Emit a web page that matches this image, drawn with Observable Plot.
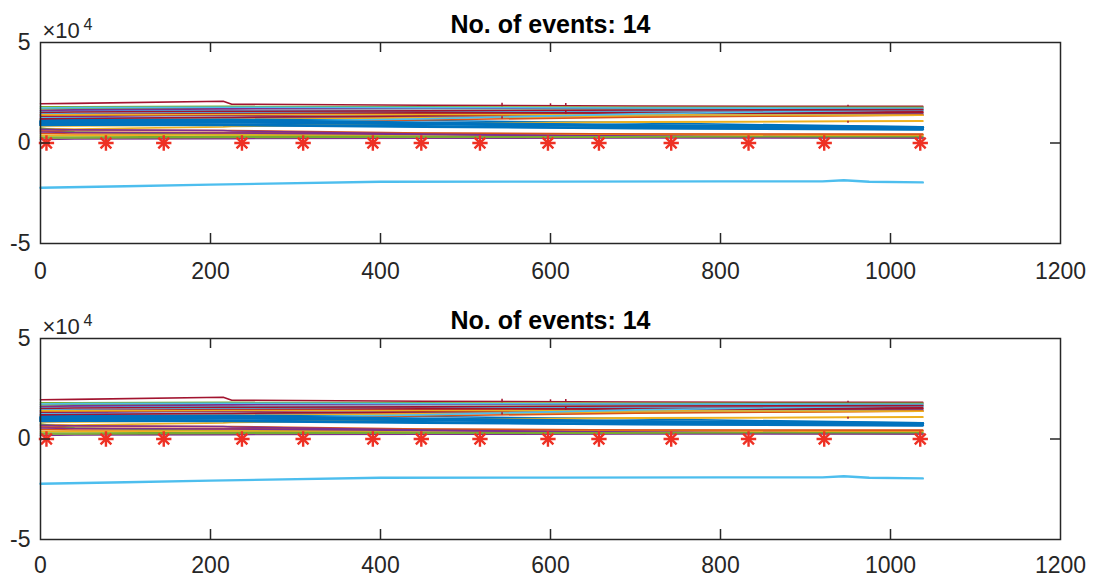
<!DOCTYPE html>
<html><head><meta charset="utf-8">
<script src="https://cdn.jsdelivr.net/npm/d3@7"></script>
<script src="https://cdn.jsdelivr.net/npm/@observablehq/plot@0.6"></script>
<style>
body{margin:0;background:#fff;}
#chart svg{display:block;}
</style>
</head><body><div id="chart"></div>
<script>
// ---------- data (y in units of 10^4) ----------
const titleText = "No. of events: 14";
const xTicks = [0, 200, 400, 600, 800, 1000, 1200];
const yTicks = [-5, 0, 5];
const knotX = [0, 40, 215, 225, 450, 700, 1038];

const ch00 = [1.00, 1.02, 1.05, 1.05, 0.95, 0.85, 0.78];
const ch01 = [1.20, 1.22, 1.25, 1.25, 1.30, 1.35, 1.38];
const ch02 = [0.72, 0.70, 0.80, 0.82, 0.95, 1.05, 1.10];
const ch03 = [0.18, 0.20, 0.22, 0.22, 0.24, 0.25, 0.25];
const ch04 = [1.70, 1.70, 1.72, 1.72, 1.72, 1.70, 1.70];
const ch05 = [1.58, 1.60, 1.62, 1.62, 1.62, 1.62, 1.62];
const ch06 = [1.95, 1.97, 2.08, 1.93, 1.88, 1.84, 1.82];
const ch07 = [0.90, 0.92, 0.90, 0.90, 0.82, 0.74, 0.68];
const ch08 = [0.48, 0.45, 0.45, 0.45, 0.44, 0.43, 0.42];
const ch09 = [1.15, 1.15, 1.17, 1.17, 1.25, 1.32, 1.38];
const ch10 = [1.30, 1.32, 1.38, 1.38, 1.42, 1.45, 1.45];
const ch11 = [0.30, 0.30, 0.32, 0.32, 0.30, 0.29, 0.28];
const ch12 = [1.45, 1.48, 1.52, 1.52, 1.55, 1.58, 1.60];
const ch13 = [1.35, 1.37, 1.42, 1.42, 1.45, 1.48, 1.50];
const ch14 = [1.15, 1.16, 1.18, 1.18, 1.12, 1.00, 0.80];
const ch15 = [0.60, 0.55, 0.52, 0.52, 0.48, 0.42, 0.38];
const ch16 = [0.85, 0.85, 0.90, 0.90, 0.98, 1.04, 1.08];
const ch17 = [1.62, 1.65, 1.70, 1.70, 1.72, 1.75, 1.75];
const ch18 = [0.75, 0.55, 0.40, 0.40, 0.35, 0.32, 0.30];
const ch19 = [1.25, 1.25, 1.28, 1.28, 1.35, 1.40, 1.42];
const ch20 = [1.20, 1.22, 1.28, 1.28, 1.35, 1.45, 1.55];
const ch21 = [0.95, 0.97, 1.00, 1.00, 0.95, 0.85, 0.75];
const ch22 = [1.00, 1.02, 1.05, 1.05, 1.15, 1.28, 1.40];
const ch23 = [0.38, 0.38, 0.40, 0.40, 0.41, 0.41, 0.40];
const ch24 = [0.55, 0.52, 0.50, 0.50, 0.42, 0.35, 0.27];
const ch25 = [1.80, 1.80, 1.82, 1.82, 1.80, 1.78, 1.78];
const ch26 = [1.74, 1.76, 1.78, 1.78, 1.76, 1.74, 1.73];
const ch27 = [1.40, 1.42, 1.46, 1.46, 1.50, 1.52, 1.53];
const ch28 = [1.08, 1.10, 1.12, 1.12, 1.00, 0.88, 0.76];
const ch29 = [0.65, 0.65, 0.62, 0.62, 0.50, 0.45, 0.44];
const ch30 = [1.40, 1.40, 1.42, 1.42, 1.42, 1.40, 1.38];
const ch31 = [0.68, 0.66, 0.62, 0.60, 0.45, 0.32, 0.26];
const ch32 = [0.25, 0.25, 0.28, 0.28, 0.30, 0.31, 0.31];
const ch33 = [0.98, 1.00, 1.05, 1.05, 1.20, 1.45, 1.66];
const ch34 = [1.52, 1.54, 1.58, 1.58, 1.60, 1.64, 1.66];
const channels = [ch00, ch01, ch02, ch03, ch04, ch05, ch06, ch07, ch08, ch09,
  ch10, ch11, ch12, ch13, ch14, ch15, ch16, ch17, ch18, ch19,
  ch20, ch21, ch22, ch23, ch24, ch25, ch26, ch27, ch28, ch29,
  ch30, ch31, ch32, ch33, ch34];

// the negative channel
const negX = [0, 100, 200, 400, 600, 800, 920, 945, 975, 1038];
const negY = [-2.23, -2.15, -2.07, -1.93, -1.92, -1.91, -1.91, -1.85, -1.93, -1.96];

// short glitches
const spikeX  = [543, 543, 600, 618, 618, 950, 950];
const spikeLo = [1.80, 1.20, 1.84, 1.84, 1.42, 1.80, 0.98];
const spikeHi = [1.98, 1.30, 1.95, 1.97, 1.60, 1.88, 1.08];

// detected events (drawn at y = 0)
const eventX = [7, 77, 145, 237, 309, 391, 448, 517, 597, 657, 742, 833, 922, 1035];

// ---------- styling ----------
const matlabColors = ["#0072BD", "#D95319", "#EDB120", "#7E2F8E", "#77AC30", "#4DBEEE", "#A2142F"];
const thickChannels = [0, 7, 28];
const axisColor = "#262626";
const fontFamily = "'Liberation Sans', Arial, Helvetica, sans-serif";

const rows = channels.flatMap((vals, i) => vals.map((v, j) => ({x: knotX[j], y: v, ch: i})));
const negRows = negX.map((x, i) => ({x, y: negY[i]}));
const spikeRows = spikeX.map((x, i) => ({x, y1: spikeLo[i], y2: spikeHi[i]}));

function panel({marginTop, marginBottom, xPad}) {
  const W = 1093, H = 288, mL = 40, mR = 33;
  const fw = W - mL - mR, fh = H - marginTop - marginBottom, tl = 10;
  return Plot.plot({
    width: W, height: H,
    marginLeft: mL, marginRight: mR, marginTop, marginBottom,
    style: {fontFamily, fontSize: "23px", color: axisColor, background: "white", overflow: "visible"},
    color: {type: "identity"},
    x: {domain: [0, 1200], ticks: xTicks, tickSize: 0, tickPadding: xPad, tickFormat: d => String(d), label: null},
    y: {domain: [-5, 5], ticks: yTicks, tickSize: 0, tickPadding: 10, tickFormat: d => String(d), label: null},
    marks: [
      Plot.line(rows, {x: "x", y: "y", z: "ch", stroke: d => matlabColors[d.ch % 7], strokeWidth: 1.6}),
      Plot.line(rows.filter(d => thickChannels.includes(d.ch)), {x: "x", y: "y", z: "ch", stroke: d => matlabColors[d.ch % 7], strokeWidth: 2.8}),
      Plot.line(negRows, {x: "x", y: "y", stroke: "#4DBEEE", strokeWidth: 2.4}),
      Plot.ruleX(spikeRows, {x: "x", y1: "y1", y2: "y2", stroke: "#A2142F", strokeWidth: 1.5}),
      Plot.dot(eventX, {x: d => d, y: () => 0, symbol: "plus", r: 5, stroke: "#EE3124", strokeWidth: 2.4}),
      Plot.dot(eventX, {x: d => d, y: () => 0, symbol: "times", r: 5, stroke: "#EE3124", strokeWidth: 2.4}),
      Plot.frame({stroke: axisColor, strokeWidth: 1.5}),
      Plot.tickX(xTicks.slice(1, -1), {x: d => d, insetTop: fh - tl, stroke: axisColor, strokeWidth: 1.5}),
      Plot.tickX(xTicks.slice(1, -1), {x: d => d, insetBottom: fh - tl, stroke: axisColor, strokeWidth: 1.5}),
      Plot.tickY([0], {y: d => d, insetRight: fw - tl, stroke: axisColor, strokeWidth: 1.5}),
      Plot.tickY([0], {y: d => d, insetLeft: fw - tl, stroke: axisColor, strokeWidth: 1.5}),
      Plot.text([titleText], {frameAnchor: "top", dy: -10, lineAnchor: "bottom", fontWeight: "bold", fontSize: 25, fill: "#000"}),
      Plot.text(["×10"], {frameAnchor: "top-left", dx: 2, dy: -5, lineAnchor: "bottom", textAnchor: "start", fontSize: 22, fill: axisColor}),
      Plot.text(["4"], {frameAnchor: "top-left", dx: 43, dy: -13, lineAnchor: "bottom", textAnchor: "start", fontSize: 16, fill: axisColor})
    ]
  });
}

const chart = document.getElementById("chart");
chart.append(panel({marginTop: 42, marginBottom: 45, xPad: 19}));
chart.append(panel({marginTop: 50, marginBottom: 37, xPad: 17}));
</script>
</body></html>
